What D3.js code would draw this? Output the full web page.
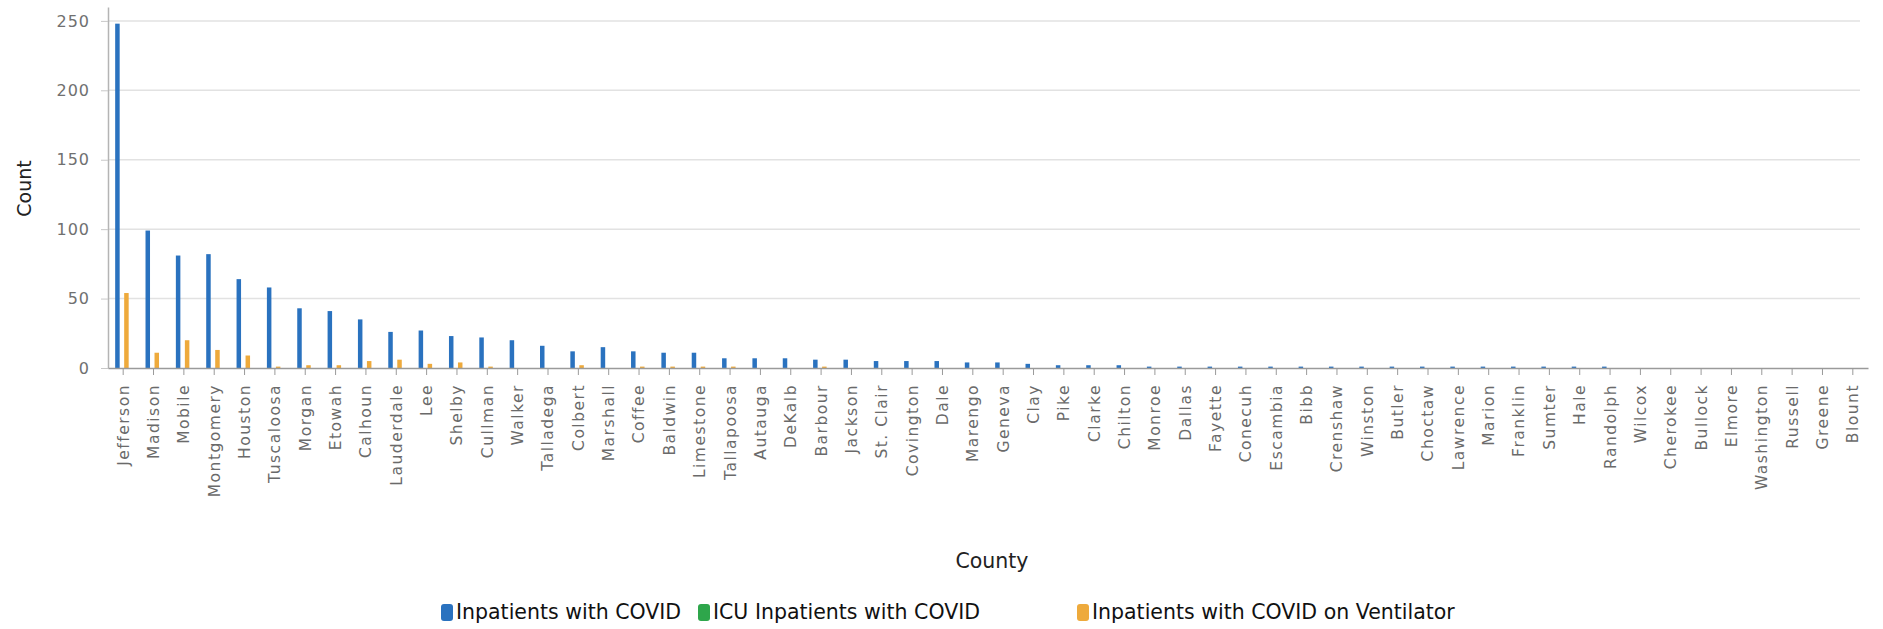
<!DOCTYPE html>
<html>
<head>
<meta charset="utf-8">
<script src="https://cdn.jsdelivr.net/npm/d3@7"></script>
<style>
  body { margin: 0; background: #fff; }
  svg { display: block; }
</style>
</head>
<body>
<script>
const counties = ["Jefferson", "Madison", "Mobile", "Montgomery", "Houston", "Tuscaloosa", "Morgan", "Etowah",
  "Calhoun", "Lauderdale", "Lee", "Shelby", "Cullman", "Walker", "Talladega", "Colbert", "Marshall", "Coffee",
  "Baldwin", "Limestone", "Tallapoosa", "Autauga", "DeKalb", "Barbour", "Jackson", "St. Clair", "Covington",
  "Dale", "Marengo", "Geneva", "Clay", "Pike", "Clarke", "Chilton", "Monroe", "Dallas", "Fayette", "Conecuh",
  "Escambia", "Bibb", "Crenshaw", "Winston", "Butler", "Choctaw", "Lawrence", "Marion", "Franklin", "Sumter",
  "Hale", "Randolph", "Wilcox", "Cherokee", "Bullock", "Elmore", "Washington", "Russell", "Greene", "Blount"];

const inpatients = [248, 99, 81, 82, 64, 58, 43, 41, 35, 26, 27, 23, 22, 20, 16, 12, 15, 12,
  11, 11, 7, 7, 7, 6, 6, 5, 5, 5, 4, 4, 3, 2, 2, 2, 1, 1, 1, 1,
  1, 1, 1, 1, 1, 1, 1, 1, 1, 1, 1, 1, 0, 0, 0, 0, 0, 0, 0, 0];

const icuInpatients = counties.map(() => 0);

const ventilator = [54, 11, 20, 13, 9, 1, 2, 2, 5, 6, 3, 4, 1, 0, 0, 2, 0, 1,
  1, 1, 1, 0, 0, 1, 0, 0, 0, 0, 0, 0, 0, 0, 0, 0, 0, 0, 0, 0,
  0, 0, 0, 0, 0, 0, 0, 0, 0, 0, 0, 0, 0, 0, 0, 0, 0, 0, 0, 0];

const seriesNames = ["Inpatients with COVID", "ICU Inpatients with COVID", "Inpatients with COVID on Ventilator"];
const seriesColors = ["#2a72bf", "#2ea64b", "#eeaa3c"];
const yTicks = [0, 50, 100, 150, 200, 250];

const width = 1883, height = 629;
const plotLeft = 108, plotRight = 1868, plotBottom = 368, plotTop = 7;

const svg = d3.select("body").append("svg")
  .attr("width", width).attr("height", height);

const x0 = d3.scaleBand().domain(counties).range([plotLeft, plotRight]);
const x1 = d3.scaleBand().domain(seriesNames)
  .range([x0.bandwidth() / 2 - 8, x0.bandwidth() / 2 + 5.5]);
const y = d3.scaleLinear().domain([0, 260]).range([plotBottom, plotTop]);
const color = d3.scaleOrdinal().domain(seriesNames).range(seriesColors);

// gridlines
svg.append("g")
  .selectAll("line")
  .data(yTicks.filter(d => d > 0))
  .enter().append("line")
  .attr("x1", plotLeft).attr("x2", plotRight - 8)
  .attr("y1", d => y(d)).attr("y2", d => y(d))
  .attr("stroke", "#e2e2e2").attr("stroke-width", 1.5);

// y axis
const yAxis = svg.append("g").attr("transform", `translate(${plotLeft},0)`)
  .call(d3.axisLeft(y).tickValues(yTicks).tickSize(7).tickPadding(11).tickSizeOuter(0));
yAxis.select(".domain").attr("stroke", "#b4b4b4").attr("stroke-width", 1.5);
yAxis.selectAll(".tick line").attr("stroke", "#c8c8c8");
yAxis.selectAll("text")
  .attr("fill", "#707070")
  .style("font-family", "'DejaVu Sans', sans-serif")
  .style("font-size", "16px")
  .style("letter-spacing", "1px");

// bars
const rows = counties.map((c, i) => ({
  county: c,
  values: [inpatients[i], icuInpatients[i], ventilator[i]]
}));

svg.append("g")
  .selectAll("g")
  .data(rows)
  .enter().append("g")
  .attr("transform", d => `translate(${x0(d.county)},0)`)
  .selectAll("rect")
  .data(d => seriesNames.map((s, k) => ({ series: s, value: d.values[k] })).filter(v => v.value > 0))
  .enter().append("rect")
  .attr("x", d => x1(d.series))
  .attr("y", d => y(d.value))
  .attr("width", x1.bandwidth())
  .attr("height", d => plotBottom - y(d.value))
  .attr("fill", d => color(d.series));

// x axis
const xAxis = svg.append("g").attr("transform", `translate(0,${plotBottom})`)
  .call(d3.axisBottom(x0).tickSize(7).tickSizeOuter(0));
xAxis.select(".domain").attr("stroke", "#9a9a9a").attr("stroke-width", 1.5);
xAxis.selectAll(".tick line").attr("stroke", "#9a9a9a");
xAxis.selectAll("text")
  .attr("transform", "rotate(-90)")
  .attr("x", -16).attr("y", 0).attr("dy", "0.35em")
  .style("text-anchor", "end")
  .attr("fill", "#6a6a6a")
  .style("font-family", "'DejaVu Sans', sans-serif")
  .style("font-size", "15.5px")
  .style("letter-spacing", "1.5px");

// axis titles
svg.append("text")
  .attr("transform", `translate(24,${(y(250) + plotBottom) / 2 - 6}) rotate(-90)`)
  .attr("text-anchor", "middle")
  .attr("dy", "0.35em")
  .style("font-family", "'DejaVu Sans', sans-serif")
  .style("font-size", "19px")
  .attr("fill", "#222")
  .text("Count");

svg.append("text")
  .attr("x", 992).attr("y", 561)
  .attr("text-anchor", "middle")
  .attr("dy", "0.35em")
  .style("font-family", "'DejaVu Sans', sans-serif")
  .style("font-size", "20.5px")
  .attr("fill", "#222")
  .text("County");

// legend
const legendX = [441, 698, 1077];
const legend = svg.append("g");
seriesNames.forEach((s, i) => {
  legend.append("rect")
    .attr("x", legendX[i]).attr("y", 604)
    .attr("width", 12).attr("height", 17).attr("rx", 3)
    .attr("fill", color(s));
  legend.append("text")
    .attr("x", legendX[i] + 15).attr("y", 612)
    .attr("dy", "0.35em")
    .style("font-family", "'DejaVu Sans', sans-serif")
    .style("font-size", "20.5px")
    .attr("fill", "#111")
    .text(s);
});
</script>
</body>
</html>
